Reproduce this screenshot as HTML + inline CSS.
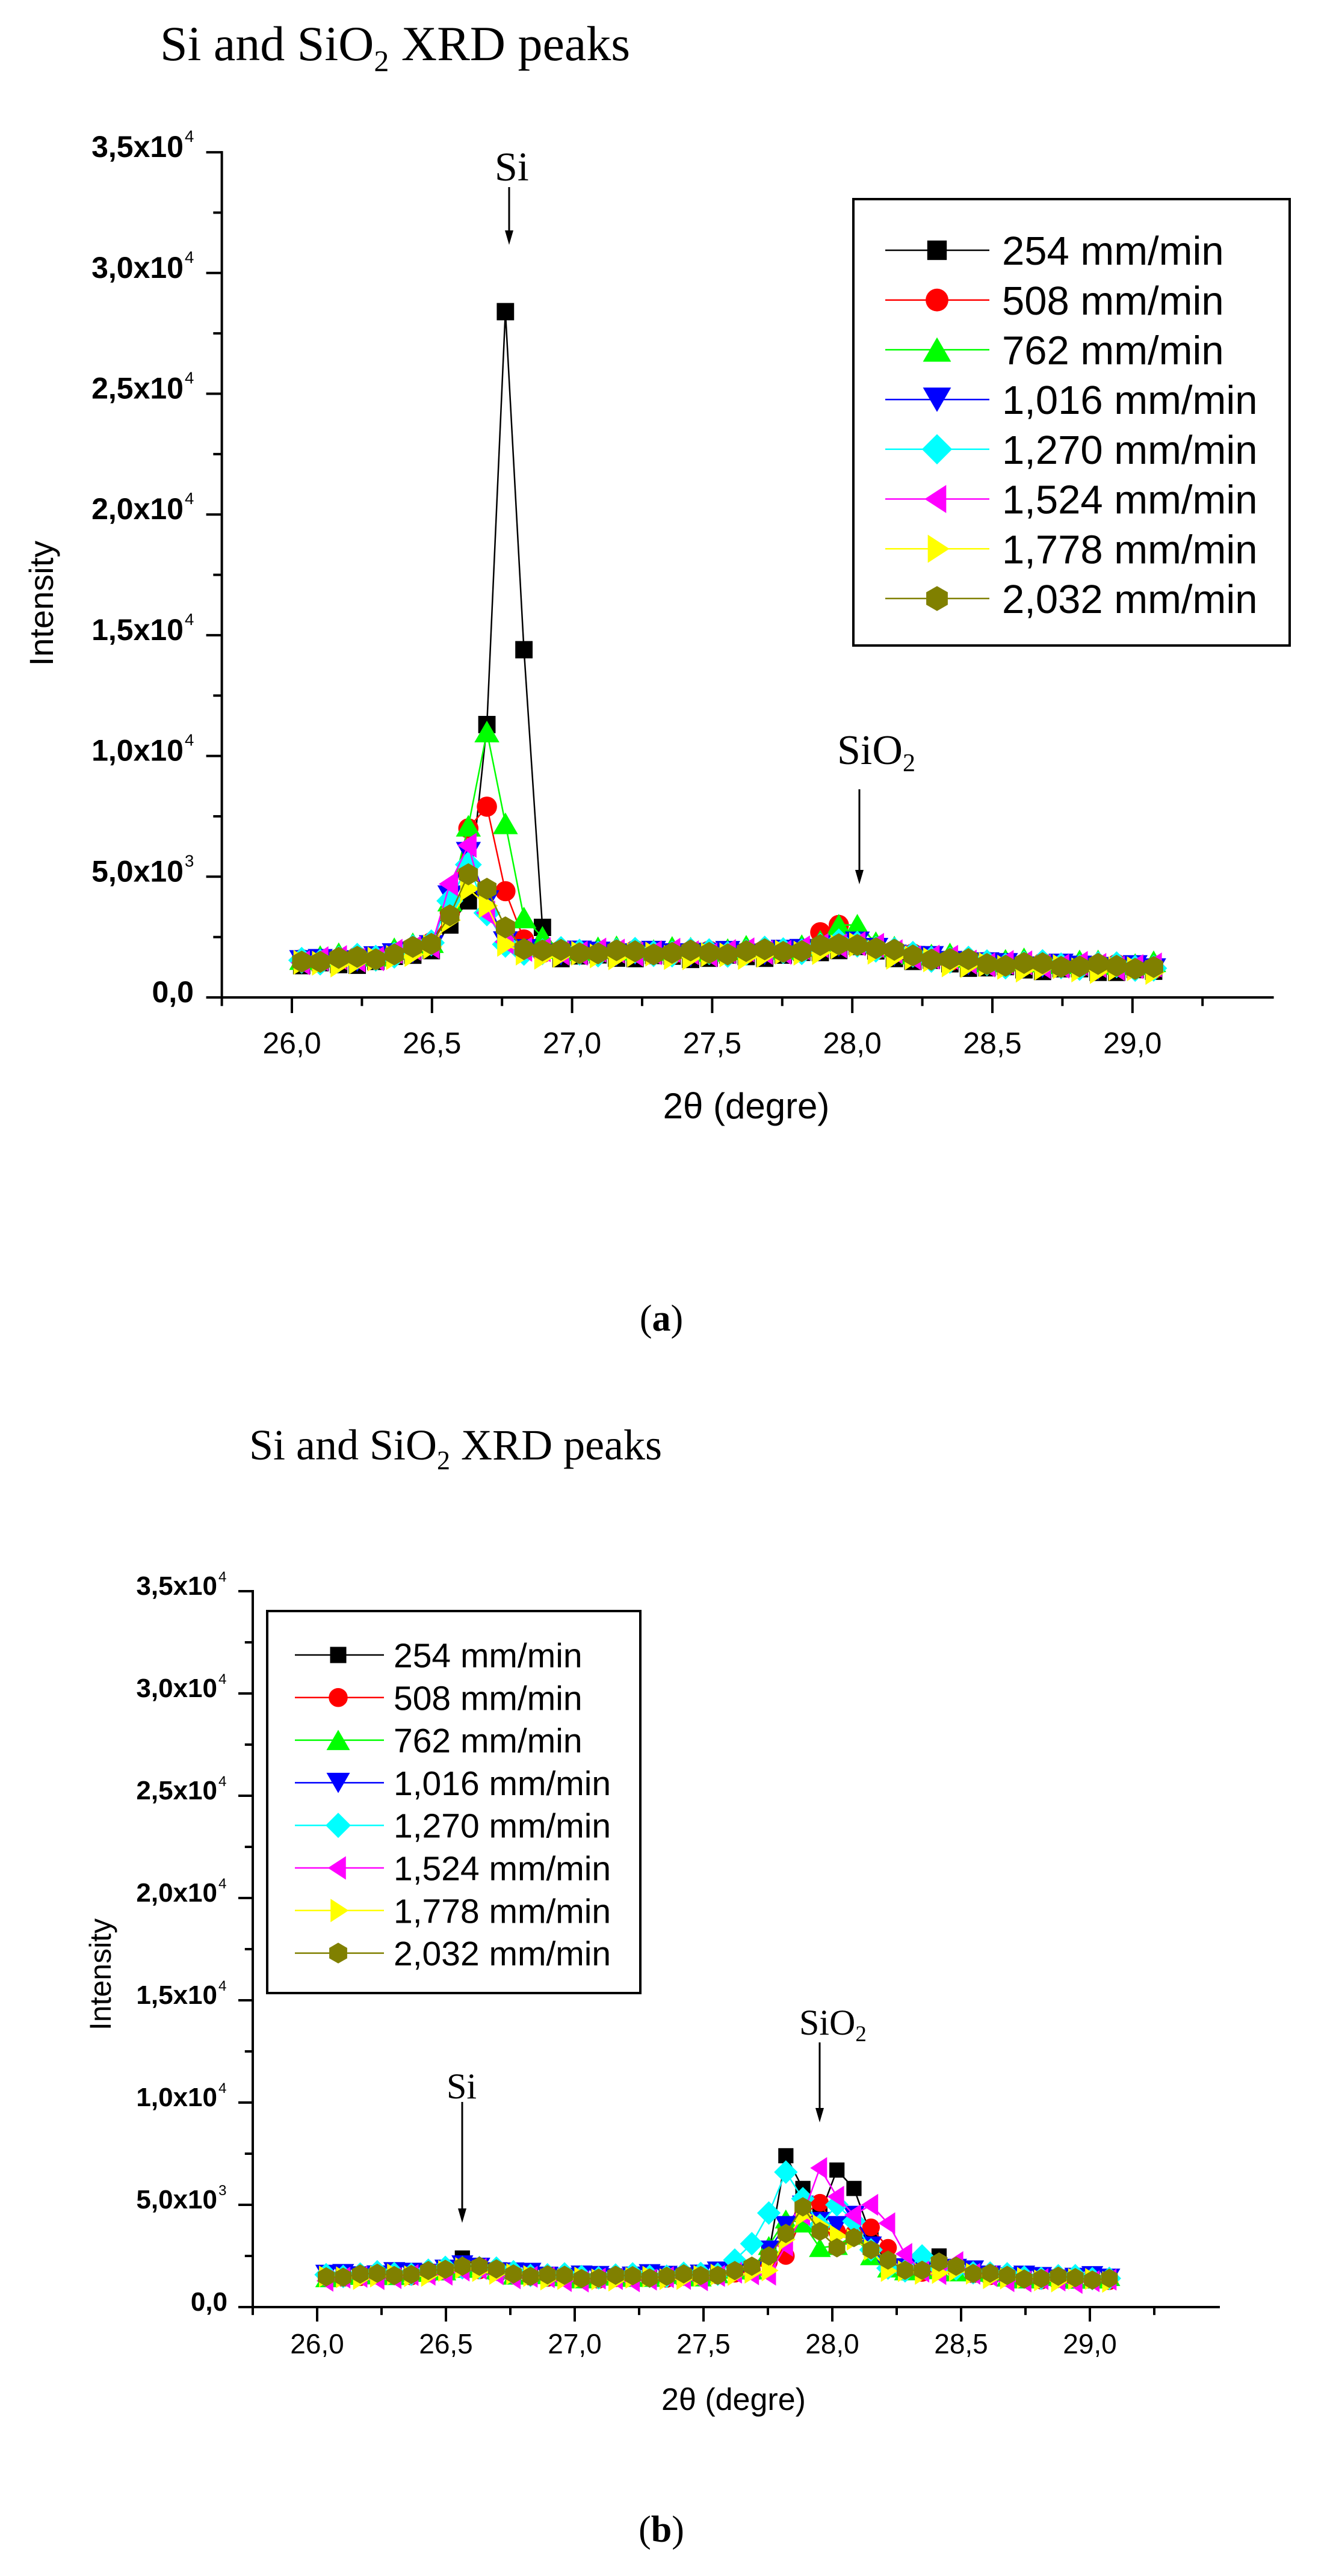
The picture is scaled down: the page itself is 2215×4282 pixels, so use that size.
<!DOCTYPE html>
<html><head><meta charset="utf-8"><style>
html,body{margin:0;padding:0;background:#fff;}
svg{display:block;}
</style></head><body>
<svg id="s" xmlns="http://www.w3.org/2000/svg" width="2215" height="4282" viewBox="0 0 2215 4282">
<rect width="2215" height="4282" fill="#fff"/>
<text x="266" y="100" font-family="Liberation Serif, serif" font-size="82">Si and SiO<tspan font-size="50" dy="18">2</tspan><tspan dy="-18"> XRD peaks</tspan></text>
<text x="414" y="2426" font-family="Liberation Serif, serif" font-size="72">Si and SiO<tspan font-size="44" dy="16">2</tspan><tspan dy="-16"> XRD peaks</tspan></text>
<text x="1099" y="2212" text-anchor="middle" font-family="Liberation Serif, serif" font-size="62">(<tspan font-weight="bold">a</tspan>)</text>
<text x="1099" y="4225" text-anchor="middle" font-family="Liberation Serif, serif" font-size="62">(<tspan font-weight="bold">b</tspan>)</text>
<g id="g"></g>
</svg>
<script>
(function(){
var g=document.getElementById('g');var out=[];
var colors=['#000000','#ff0000','#00ff00','#0000ff','#00ffff','#ff00ff','#ffff00','#808000'];
var names=['254 mm/min','508 mm/min','762 mm/min','1,016 mm/min','1,270 mm/min','1,524 mm/min','1,778 mm/min','2,032 mm/min'];
function marker(k,cx,cy,s,c){
  var h=s/2;
  switch(k){
   case 0:return '<rect x="'+(cx-h*0.9)+'" y="'+(cy-h*0.9)+'" width="'+(s*0.9)+'" height="'+(s*0.9)+'" fill="'+c+'"/>';
   case 1:return '<circle cx="'+cx+'" cy="'+cy+'" r="'+(h*1.05)+'" fill="'+c+'"/>';
   case 2:return '<polygon points="'+cx+','+(cy-h*1.15)+' '+(cx+h*1.3)+','+(cy+h*1.1)+' '+(cx-h*1.3)+','+(cy+h*1.1)+'" fill="'+c+'"/>';
   case 3:return '<polygon points="'+cx+','+(cy+h*1.15)+' '+(cx+h*1.3)+','+(cy-h*1.1)+' '+(cx-h*1.3)+','+(cy-h*1.1)+'" fill="'+c+'"/>';
   case 4:return '<polygon points="'+cx+','+(cy-h*1.4)+' '+(cx+h*1.4)+','+cy+' '+cx+','+(cy+h*1.4)+' '+(cx-h*1.4)+','+cy+'" fill="'+c+'"/>';
   case 5:return '<polygon points="'+(cx-h*1.15)+','+cy+' '+(cx+h*0.85)+','+(cy-h*1.3)+' '+(cx+h*0.85)+','+(cy+h*1.3)+'" fill="'+c+'"/>';
   case 6:return '<polygon points="'+(cx+h*1.15)+','+cy+' '+(cx-h*0.85)+','+(cy-h*1.3)+' '+(cx-h*0.85)+','+(cy+h*1.3)+'" fill="'+c+'"/>';
   case 7:var p=[];for(var i=0;i<6;i++){var a=i*Math.PI/3+Math.PI/2;p.push((cx+h*1.15*Math.cos(a)).toFixed(1)+','+(cy+h*1.15*Math.sin(a)).toFixed(1));}return '<polygon points="'+p.join(' ')+'" fill="'+c+'"/>';
  }
}
function interp(pts,x){for(var i=0;i<pts.length-1;i++){if(x<=pts[i+1][0]){var t=(x-pts[i][0])/(pts[i+1][0]-pts[i][0]);return pts[i][1]+t*(pts[i+1][1]-pts[i][1]);}}return pts[pts.length-1][1];}
var N=47;function X(i){return 26.035+0.0661*i;}
function series(bg,offs,over){var res=[];for(var s=0;s<8;s++){var arr=[];for(var i=0;i<N;i++){var x=X(i);var v=interp(bg,x)+offs[s]+90*Math.sin(i*1.7+s*2.3);if(over[s]&&over[s][i]!==undefined)v=over[s][i];arr.push([x,v]);}res.push(arr);}return res;}
var bgA=[[26,1500],[26.3,1650],[26.5,2200],[26.9,1900],[27.5,1850],[27.8,1950],[28.0,2300],[28.2,1750],[28.5,1400],[29.1,1250]];
var offA=[-200,0,150,-50,0,0,-150,0];
var ovA=[{8:3000,9:4000,10:11300,11:28400,12:14400,13:2900},{8:3500,9:7000,10:7900,11:4400,12:2400,28:2700,29:3000},{8:4000,9:7100,10:11000,11:7200,12:3300,13:2500,29:3000,30:3000},{8:4200,9:6000,10:4000,11:2300},{8:4000,9:5500,10:3500,11:2200},{8:4700,9:6300,10:3500,11:2300},{8:3200,9:4500,10:3800,11:2200},{8:3400,9:5100,10:4500,11:2900,12:2000,29:2200}];
var bgB=[[26,1500],[26.4,1650],[26.6,2000],[26.75,1650],[27.0,1450],[27.5,1550],[27.65,1800],[28.3,1800],[28.5,1800],[28.7,1450],[29.1,1400]];
var offB=[0,-50,0,50,50,-150,-100,0];
var ovB=[{8:2400,26:2600,27:7400,28:5800,29:4500,30:6700,31:5800,32:3500,33:2000,36:2500},
{26:2200,27:2500,28:4500,29:5100,30:3700,31:3600,32:3900,33:2900},
{26:3000,27:4300,28:4100,29:2900,30:3000,31:3500,32:2500,33:1900},
{26:2800,27:4000,28:5000,29:4200,30:4000,31:4500,32:3000},
{24:2300,25:3100,26:4600,27:6600,28:5300,29:4000,30:5000,31:4200,32:2800,35:2500},
{27:3000,28:4500,29:6800,30:5400,31:4500,32:5000,33:4100,34:2600,37:2200},
{27:3300,28:4500,29:4000,30:3500,31:3300,32:2800},
{8:2000,9:2000,25:2000,26:2500,27:3600,28:4900,29:3700,30:2900,31:3400,32:2800,33:2300,34:1800,35:1800,36:2200,37:2000}];
function plot(c){
  var px=function(x){return c.x26+(x-26)*c.pd;};var py=function(v){return c.y0-v*c.py;};
  var xL=px(25.75),xR=px(29.5),yT=py(35000);
  var data=series(c.bg,c.off,c.ov);
  for(var s=0;s<8;s++){var d=data[s];var pts=d.map(function(p){return px(p[0]).toFixed(1)+','+py(p[1]).toFixed(1);}).join(' ');
    out.push('<polyline points="'+pts+'" fill="none" stroke="'+colors[s]+'" stroke-width="2.5"/>');
    for(var i=0;i<d.length;i++)out.push(marker(s,px(d[i][0]),py(d[i][1]),c.ms,colors[s]));}
  out.push('<line x1="'+xL+'" y1="'+(yT-2)+'" x2="'+xL+'" y2="'+(c.y0+2)+'" stroke="#000" stroke-width="4"/>');
  out.push('<line x1="'+(xL-2)+'" y1="'+c.y0+'" x2="'+(xR+2)+'" y2="'+c.y0+'" stroke="#000" stroke-width="4"/>');
  for(var k=0;k<=14;k++){var x=25.75+k*0.25;var maj=(k%2==1);var xx=px(x);
    out.push('<line x1="'+xx+'" y1="'+c.y0+'" x2="'+xx+'" y2="'+(c.y0+(maj?c.tl:c.tl*0.55))+'" stroke="#000" stroke-width="4"/>');
    if(maj)out.push('<text x="'+xx+'" y="'+c.xlb+'" text-anchor="middle" font-family="Liberation Sans, sans-serif" font-size="'+c.xf+'">'+x.toFixed(1).replace('.',',')+'</text>');}
  var labs=['0,0','5,0x10|3','1,0x10|4','1,5x10|4','2,0x10|4','2,5x10|4','3,0x10|4','3,5x10|4'];
  for(var k=0;k<=14;k++){var v=k*2500;var maj=(k%2==0);var yy=py(v);
    out.push('<line x1="'+xL+'" y1="'+yy+'" x2="'+(xL-(maj?c.tl:c.tl*0.55))+'" y2="'+yy+'" stroke="#000" stroke-width="4"/>');
    if(maj){var L=labs[k/2];var ff='font-family="Liberation Sans, sans-serif" font-weight="bold"';
      if(L.indexOf('|')<0)out.push('<text x="'+c.ylEnd+'" y="'+(yy+c.ylb)+'" text-anchor="end" '+ff+' font-size="'+c.yf+'">'+L+'</text>');
      else{var pr=L.split('|');out.push('<text x="'+c.ylMain+'" y="'+(yy+c.ylb)+'" text-anchor="end" '+ff+' font-size="'+c.yf+'">'+pr[0]+'</text>');
        out.push('<text x="'+(c.ylMain+2)+'" y="'+(yy+c.ylb-c.yf*0.5)+'" font-family="Liberation Sans, sans-serif" font-size="'+(c.yf*0.55)+'">'+pr[1]+'</text>');}}}
  out.push('<text x="'+c.xtX+'" y="'+c.xtY+'" text-anchor="middle" font-family="Liberation Sans, sans-serif" font-size="'+c.tf+'">2θ (degre)</text>');
  out.push('<text transform="translate('+c.itX+','+c.itY+') rotate(-90)" text-anchor="middle" font-family="Liberation Sans, sans-serif" font-size="'+c.itf+'">Intensity</text>');
  var L=c.leg;out.push('<rect x="'+L.x1+'" y="'+L.y1+'" width="'+(L.x2-L.x1)+'" height="'+(L.y2-L.y1)+'" fill="#fff" stroke="#000" stroke-width="4"/>');
  for(var s=0;s<8;s++){var yy=L.r0+s*L.rs;
    out.push('<line x1="'+L.l1+'" y1="'+yy+'" x2="'+L.l2+'" y2="'+yy+'" stroke="'+colors[s]+'" stroke-width="2.5"/>');
    out.push(marker(s,L.m,yy,L.ms,colors[s]));
    out.push('<text x="'+L.t+'" y="'+(yy+L.f*0.36)+'" font-family="Liberation Sans, sans-serif" font-size="'+L.f+'">'+names[s]+'</text>');}
  c.ann.forEach(function(a){
    out.push('<text x="'+a.tx+'" y="'+a.ty+'" font-family="Liberation Serif, serif" font-size="'+a.f+'">'+a.t+'</text>');
    out.push('<line x1="'+a.ax+'" y1="'+a.a1+'" x2="'+a.ax+'" y2="'+(a.a2-18)+'" stroke="#000" stroke-width="3"/>');
    out.push('<polygon points="'+(a.ax-7)+','+(a.a2-24)+' '+(a.ax+7)+','+(a.a2-24)+' '+a.ax+','+a.a2+'" fill="#000"/>');});
}
plot({x26:485,pd:465.6,y0:1658,py:200.7/5000,bg:bgA,off:offA,ov:ovA,ms:32,tl:26,xlb:1751,xf:50,yf:50,ylb:8,ylEnd:322,ylMain:305,
 xtX:1240,xtY:1859,tf:60,itX:88,itY:1003,itf:56,
 leg:{x1:1418,y1:331,x2:2143,y2:1073,r0:416,rs:82.7,l1:1471,l2:1644,m:1557,ms:36,t:1665,f:67},
 ann:[{t:'Si',tx:822,ty:300,f:68,ax:846,a1:311,a2:407},{t:'SiO<tspan font-size="42" dy="12">2</tspan>',tx:1391,ty:1270,f:70,ax:1428,a1:1312,a2:1470}]});
plot({x26:527,pd:428,y0:3835,py:170/5000,bg:bgB,off:offB,ov:ovB,ms:28,tl:24,xlb:3912,xf:46,yf:44,ylb:6,ylEnd:378,ylMain:361,
 xtX:1219,xtY:4006,tf:52,itX:184,itY:3282,itf:50,
 leg:{x1:444,y1:2678,x2:1064,y2:3313,r0:2751,rs:70.8,l1:490,l2:638,m:562,ms:30,t:654,f:57},
 ann:[{t:'Si',tx:742,ty:3488,f:60,ax:768,a1:3494,a2:3695},{t:'SiO<tspan font-size="37" dy="11">2</tspan>',tx:1328,ty:3382,f:60,ax:1362,a1:3395,a2:3528}]});
g.innerHTML=out.join('');
})();
</script>
</body></html>
